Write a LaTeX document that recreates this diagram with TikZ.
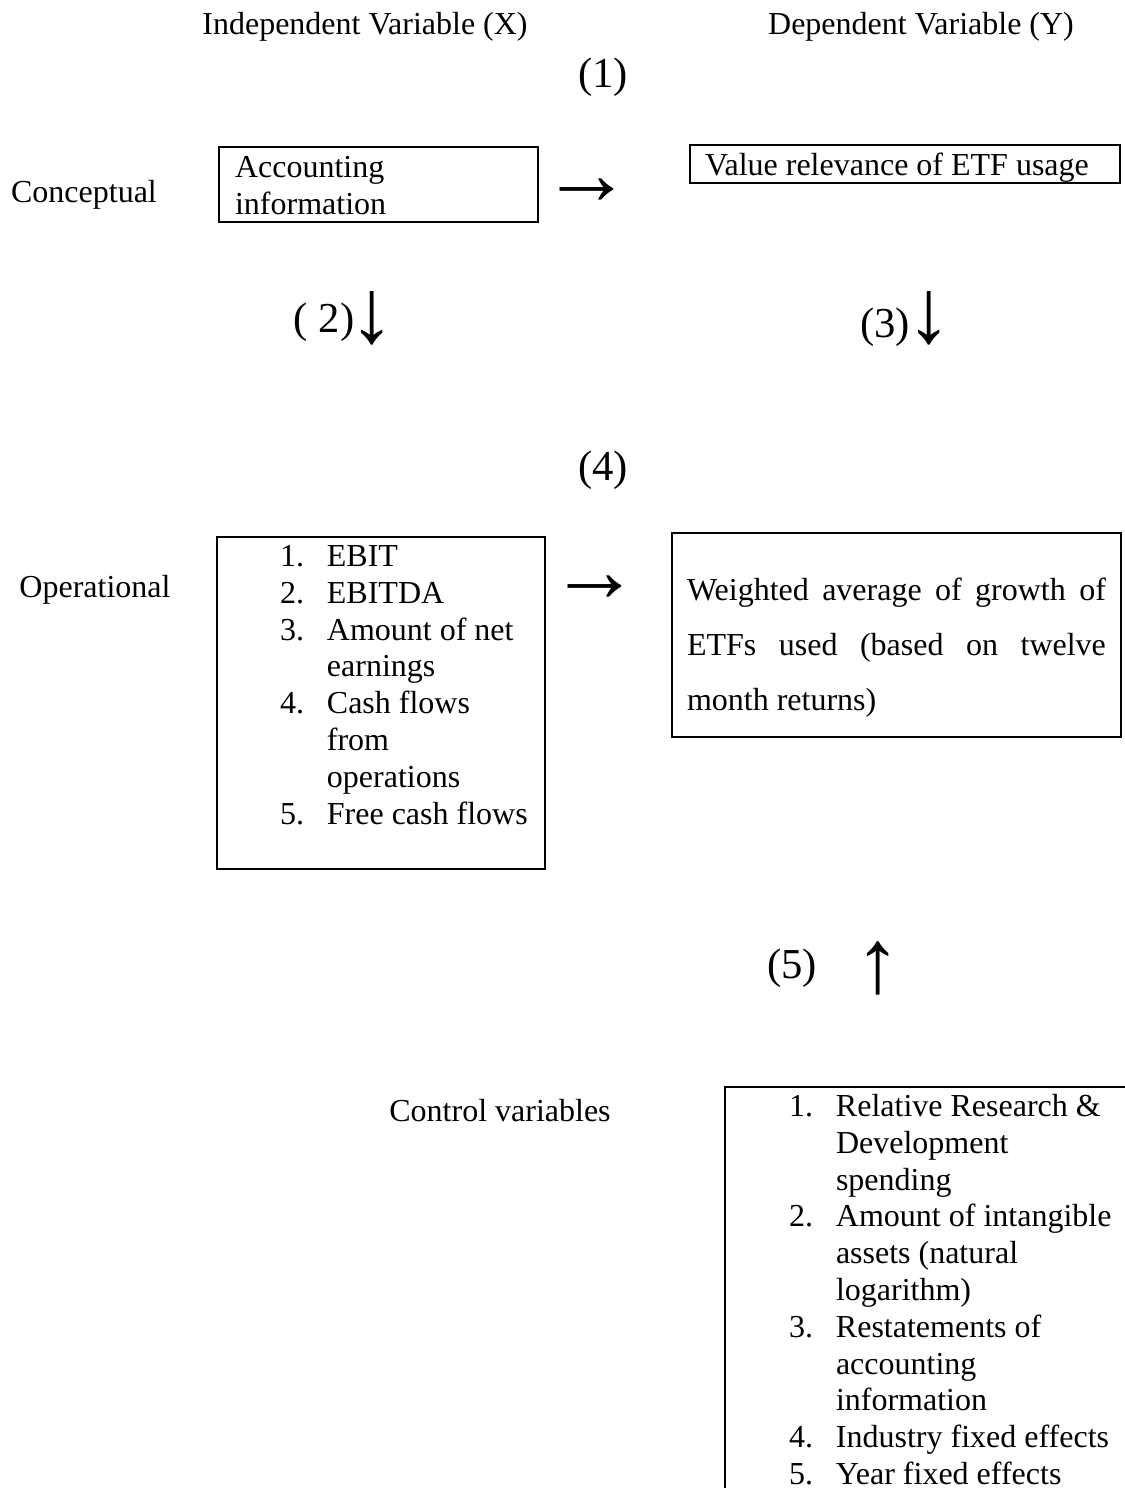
\documentclass[tikz,border=0pt]{standalone}
\usepackage{fontspec}
\setmainfont{Liberation Serif}

\tikzset{
	lbl/.style={font=\fontsize{12pt}{13.8pt}\selectfont, inner sep=0pt},
	numlbl/.style={font=\fontsize{16pt}{19pt}\selectfont, inner sep=0pt},
	glypharrow/.style={font=\fontsize{34pt}{40pt}\selectfont, inner sep=0pt},
	varbox/.style={draw, line width=0.8pt, anchor=north west, inner ysep=0pt, font=\fontsize{12pt}{13.8pt}\selectfont,
		execute at begin node={\spaceskip=0pt\relax\xspaceskip=0pt\relax}},
}

\begin{document}
\begin{tikzpicture}[x=0.375pt, y=-0.375pt]
			%%%%% START %%%%%
			
			\useasboundingbox[fill=white] (0,0) rectangle (1125,1488);
			\clip (0,0) rectangle (1125,1488);
			
			\node[lbl] (indep) at (365,27) {Independent Variable (X)};
			\node[lbl] (dep) at (921,27) {Dependent Variable (Y)};
			\node[numlbl] (stepone) at (603,77) {(1)};
			
			\node[lbl] (concept) at (84,195) {Conceptual};
			\node[varbox, inner xsep=6pt, text width=107.6pt, text height=11.3pt, text depth=16.8pt] (accinfo) at (218,146) {Accounting\\information};
			\node[glypharrow] (concarrow) at (587,192) {→};
			\node[varbox, inner xsep=5.6pt, text width=150pt, text height=11.4pt, text depth=2.8pt] (valrel) at (689,144) {Value relevance of ETF usage};
			
			\node[numlbl] (steptwo) at (324,322) {( 2)};
			\node[glypharrow] (xdown) at (372,318) {↓};
			\node[numlbl] (stepthree) at (885,327) {(3)};
			\node[glypharrow] (ydown) at (929,318) {↓};
			
			\node[numlbl] (stepfour) at (603,470) {(4)};
			
			\node[lbl] (operat) at (95,590) {Operational};
			\node[varbox, inner xsep=0pt, text width=123pt, text height=11pt, text depth=113.5pt] (measures) at (216,536) {%
				\begin{tabular}[t]{@{\hspace{23.6pt}}p{17.6pt}@{}l@{}}
					1. & EBIT\\
					2. & EBITDA\\
					3. & Amount of net\\
					   & earnings\\
					4. & Cash flows\\
					   & from\\
					   & operations\\
					5. & Free cash flows
				\end{tabular}};
			\node[glypharrow] (operarrow) at (595,589) {→};
			\node[varbox, inner xsep=5.6pt, text width=157.1pt, text height=25.1pt, text depth=51.4pt, font=\fontsize{12pt}{20.7pt}\selectfont] (growth) at (671,532) {%
				\makebox[157.1pt][s]{Weighted average of growth of}\\
				\makebox[157.1pt][s]{ETFs used (based on twelve}\\
				month returns)};
			
			\node[numlbl] (stepfive) at (792,968) {(5)};
			\node[glypharrow] (ctrlup) at (878,968) {↑};
			
			\node[lbl] (ctrl) at (500,1111) {Control variables};
			\node[varbox, inner xsep=0pt, text width=158pt, text height=11pt, text depth=160pt] (controls) at (724,1086) {%
				\begin{tabular}[t]{@{\hspace{24pt}}p{17.6pt}@{}l@{}}
					1. & Relative Research \&\\
					   & Development\\
					   & spending\\
					2. & Amount of intangible\\
					   & assets (natural\\
					   & logarithm)\\
					3. & Restatements of\\
					   & accounting\\
					   & information\\
					4. & Industry fixed effects\\
					5. & Year fixed effects
				\end{tabular}};
			
			%%%%% END %%%%%
\end{tikzpicture}
\end{document}
